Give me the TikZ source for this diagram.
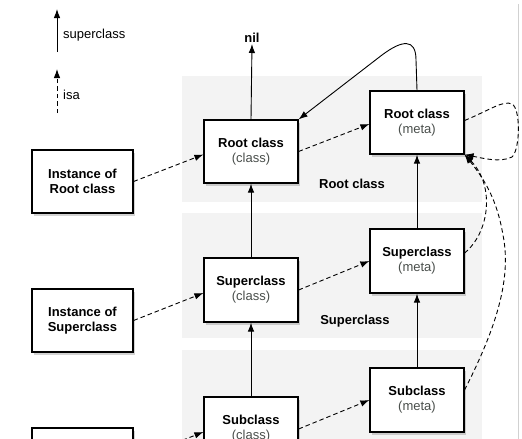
\documentclass[tikz,border=0pt]{standalone}
\usepackage{fontspec}
\setmainfont{Liberation Sans}
\usetikzlibrary{arrows.meta,shadows}
\definecolor{bandgray}{HTML}{F3F3F3}
\definecolor{subtxt}{HTML}{4A4F4C}
\tikzset{
  box/.style={draw=black,line width=1.2pt,fill=white,align=center,inner sep=0pt,
    font=\fontsize{13}{15}\selectfont,
    drop shadow={opacity=0.35,shadow xshift=2pt,shadow yshift=-3pt}},
  clsbox/.style={box,minimum width=94pt,minimum height=63pt},
  instbox/.style={box,minimum width=101pt,minimum height=63pt},
  superarrow/.style={line width=0.9pt,-{Latex[length=9pt,width=6.5pt]}},
  isaarrow/.style={superarrow,dash pattern=on 4.5pt off 3pt},
  lbl/.style={font=\fontsize{13}{15}\selectfont,inner sep=0pt},
  band/.style={fill=bandgray,draw=none}
}
\newcommand{\sub}[1]{\textcolor{subtxt}{#1}}
\begin{document}
\begin{tikzpicture}[x=1pt,y=-1pt]
\useasboundingbox (0,0) rectangle (522,439);
\clip (0,0) rectangle (522,439);
% bands
\fill[band] (182,76) rectangle (482,202);
\fill[band] (182,213) rectangle (482,338);
\fill[band] (182,350) rectangle (482,445);
% right border line
\draw[black!18,line width=0.8pt] (518,4) -- (518,439);
% legend
\coordinate (lsupA) at (57,52);
\coordinate (lsupB) at (57,9);
\coordinate (lisaA) at (57,113);
\coordinate (lisaB) at (57,69);
\draw[superarrow] (lsupA) -- (lsupB);
\draw[isaarrow] (lisaA) -- (lisaB);
\node[lbl,anchor=west] (lsup) at (63,35) {superclass};
\node[lbl,anchor=west] (lisa) at (63,95) {isa};
% band labels
\node[lbl,font=\fontsize{13}{15}\selectfont\bfseries] (bl1) at (352,184) {Root class};
\node[lbl,font=\fontsize{13}{15}\selectfont\bfseries] (bl2) at (355,321) {Superclass};
% nil
\node[lbl,font=\fontsize{13}{15}\selectfont\bfseries,anchor=south,inner sep=1pt] (nil) at (252,44) {nil};
% boxes
\node[instbox] (instroot) at (82.5,181.5) {\textbf{Instance of}\\\textbf{Root class}};
\node[clsbox] (rootc) at (251,151.5) {\textbf{Root class}\\\sub{(class)}};
\node[clsbox] (rootm) at (417,122.5) {\textbf{Root class}\\\sub{(meta)}};
\node[clsbox,minimum height=64pt] (superm) at (417,261) {\textbf{Superclass}\\\sub{(meta)}};
\node[clsbox,minimum height=64pt] (superc) at (251,290) {\textbf{Superclass}\\\sub{(class)}};
\node[instbox] (instsuper) at (82.5,320.5) {\textbf{Instance of}\\\textbf{Superclass}};
\node[clsbox,minimum height=64pt] (subm) at (417,400) {\textbf{Subclass}\\\sub{(meta)}};
\node[clsbox,minimum height=64pt] (subc) at (251,429) {\textbf{Subclass}\\\sub{(class)}};
\node[instbox] (instsub) at (82.5,459.5) {\textbf{Instance of}\\\textbf{Subclass}};
% superclass (solid) arrows
\draw[superarrow] (rootc.north) -- (nil.south);
\draw[superarrow] (superc.north) -- (rootc.south);
\draw[superarrow] (subc.north) -- (superc.south);
\draw[superarrow] (superm.north) -- (rootm.south);
\draw[superarrow] (subm.north) -- (superm.south);
\draw[superarrow] (rootm.north) -- (416,60) .. controls (416,38) and (402,40) .. (382,55) -- (rootc.north east);
% isa (dashed) arrows
\draw[isaarrow] (instroot.east) -- ([yshift=-3pt]rootc.west);
\draw[isaarrow] (rootc.east) -- ([yshift=-1.5pt]rootm.west);
\draw[isaarrow] (instsuper.east) -- ([yshift=-3pt]superc.west);
\draw[isaarrow] (superc.east) -- (superm.west);
\draw[isaarrow] (instsub.east) -- ([yshift=-3pt]subc.west);
\draw[isaarrow] (subc.east) -- (subm.west);
\draw[isaarrow] ([yshift=2pt]rootm.east) .. controls (490,110) and (503,100) .. (512,104)
   .. controls (521,109) and (520,150) .. (512,157)
   .. controls (500,163) and (482,158) .. (rootm.south east);
\draw[isaarrow] ([yshift=8pt]superm.east) .. controls (490,232) and (495,185) .. (rootm.south east);
\draw[isaarrow] ([yshift=10pt]subm.east) .. controls (495,330) and (512,280) .. (503,235)
   .. controls (497,200) and (485,180) .. (rootm.south east);
\end{tikzpicture}
\end{document}
